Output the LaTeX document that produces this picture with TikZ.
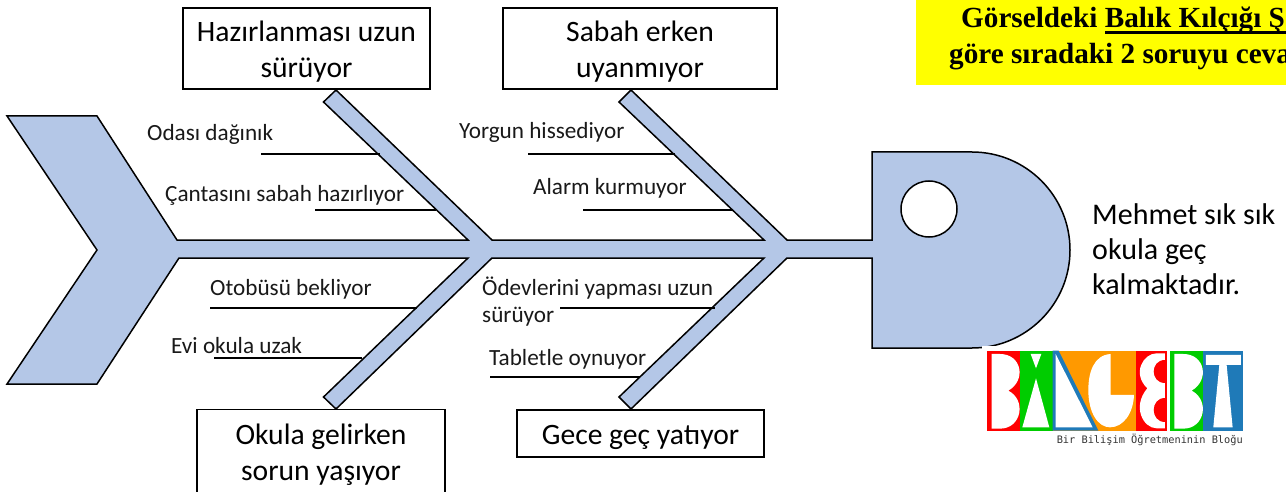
\documentclass[tikz,border=0pt]{standalone}
\usepackage{fontspec}
\setmainfont{Carlito}
\newfontfamily\serifbold{Liberation Serif}
\newfontfamily\monofam{DejaVu Sans Mono}
\definecolor{fishblue}{HTML}{B4C7E7}
\definecolor{bannery}{HTML}{FFFF00}
\definecolor{logored}{HTML}{FF0000}
\definecolor{logogreen}{HTML}{00CC00}
\definecolor{logoorange}{HTML}{FF9900}
\definecolor{logoblue}{HTML}{1F7AB8}
\newcommand{\boxtop}{\rule{0pt}{27.5pt}}
\tikzset{
  fish/.style={draw=black,line width=1.5pt,fill=fishblue,line join=miter},
  cause/.style={draw=black,line width=1.2pt,fill=white,align=center,font=\fontsize{29.6}{36}\selectfont,inner sep=0pt},
  lab/.style={font=\fontsize{23.2}{26}\selectfont,anchor=base west,inner sep=0pt,text=black!90},
  sub/.style={draw=black,line width=2pt},
  eff/.style={font=\fontsize{30}{35}\selectfont,anchor=west,align=left,inner sep=0pt},
  banner/.style={font=\serifbold\bfseries\fontsize{29.2}{35}\selectfont,anchor=base west,inner sep=0pt}
}
\begin{document}
\begin{tikzpicture}[x=1pt,y=-1pt]
\useasboundingbox (0,0) rectangle (1286,492);
\fill[white] (0,0) rectangle (1286,492);
% fish
\path[fish] (7,116) -- (97,116) -- (177,240) -- (468,240) -- (323.5,102) -- (336,90) -- (492,240)
 -- (764,240) -- (619,102) -- (631,90) -- (787,240) -- (872,240) -- (872,152) -- (972,152)
 arc[start angle=-90,end angle=90,radius=98] -- (872,348) -- (872,258) -- (787,258)
 -- (631,409) -- (619,397) -- (764,258) -- (492,258) -- (336,409) -- (323.5,397) -- (468,258)
 -- (179,258) -- (97,384) -- (7,384) -- (97,250) -- cycle;
\node[draw=black,line width=1.5pt,fill=white,circle,minimum size=56pt,inner sep=0pt] (eye) at (929,209) {};
% cause boxes
\node[cause,minimum width=247pt,minimum height=81pt] (b1) at (306.5,48.5) {\boxtop Hazırlanması uzun\\sürüyor};
\node[cause,minimum width=274pt,minimum height=81pt] (b2) at (640,48.5) {\boxtop Sabah erken\\uyanmıyor};
\node[cause,minimum width=248pt,minimum height=83pt] (b3) at (321,451) {\boxtop Okula gelirken\\sorun yaşıyor};
\node[cause,minimum width=247pt,minimum height=47pt] (b4) at (640.5,433.5) {\boxtop Gece geç yatıyor};
% sub causes
\node[lab] (t1) at (147,141) {Odası dağınık};
\node[lab] (t2) at (165,201) {Çantasını sabah hazırlıyor};
\node[lab] (t3) at (459,139) {Yorgun hissediyor};
\node[lab] (t4) at (533,195) {Alarm kurmuyor};
\node[lab] (t5) at (210,295) {Otobüsü bekliyor};
\node[lab] (t6) at (171,353) {Evi okula uzak};
\node[lab] (t7) at (482,295) {Ödevlerini yapması uzun};
\node[lab] (t7b) at (482,322) {sürüyor};
\node[lab] (t8) at (489,365) {Tabletle oynuyor};
\coordinate (a1) at (261,154); \coordinate (e1) at (380,154);
\coordinate (a2) at (315,210); \coordinate (e2) at (436,210);
\coordinate (a3) at (528,154); \coordinate (e3) at (675,154);
\coordinate (a4) at (583,210); \coordinate (e4) at (732,210);
\coordinate (a5) at (210,308); \coordinate (e5) at (417,308);
\coordinate (a6) at (214,358); \coordinate (e6) at (362,358);
\coordinate (a7) at (560,308); \coordinate (e7) at (715,308);
\coordinate (a8) at (490,377); \coordinate (e8) at (640,377);
\foreach \i in {1,...,8} {\draw[sub] (a\i) -- (e\i);}
% effect
\node[eff] (eff) at (1092,249) {Mehmet sık sık\\okula geç\\kalmaktadır.};
% yellow banner
\begin{scope}
\clip (0,0) rectangle (1286,492);
\fill[bannery] (916,0) rectangle (1300,85);
\node[banner] (y1) at (961,28) {Görseldeki Balık Kılçığı Ş};
\node[banner] (y2) at (949,64) {göre sıradaki 2 soruyu ceva};
\fill[black] (1105,31.5) rectangle (1286,33.8);
\end{scope}
% logo
\fill[white] (982,346) rectangle (1246,447);
\begin{scope}[shift={(960,330)},x=0.3333pt,y=-0.3333pt]
\fill[logored] (80,62) rectangle (181,302);
\fill[logogreen] (181,62) rectangle (278,302);
\fill[logoorange] (278,62) rectangle (527,302);
\fill[logoblue] (278,62) -- (296,62) -- (415,302) -- (278,302) -- cycle;
\fill[logored] (527,62) rectangle (622,302);
\fill[logogreen] (630,62) rectangle (730,302);
\fill[logoblue] (730,62) rectangle (850,302);
\fill[white] (95,72) -- (120,72) .. controls (185,72) and (200,150) .. (145,182) .. controls (200,210) and (185,296) .. (120,296) -- (95,296) -- cycle;
\fill[white] (212,72) -- (244,72) -- (228,115) -- cycle;
\fill[white] (228,145) -- (268,292) -- (187,292) -- cycle;
\fill[white] (287,72) -- (398,292) -- (287,292) -- cycle;
\fill[white] (452,72) .. controls (400,75) and (385,130) .. (385,180) .. controls (385,250) and (415,292) .. (450,292) .. controls (490,292) and (520,250) .. (522,195) -- (452,195) -- cycle;
\fill[white] (615,70) -- (590,70) .. controls (550,70) and (515,130) .. (562,175) .. controls (515,230) and (550,295) .. (590,295) -- (615,295) -- cycle;
\fill[logored] (615,90) -- (615,160) .. controls (570,160) and (570,90) .. (615,90) -- cycle;
\fill[logored] (615,205) -- (615,275) .. controls (570,275) and (570,205) .. (615,205) -- cycle;
\fill[white] (643,72) -- (670,72) .. controls (735,72) and (750,150) .. (695,182) .. controls (750,210) and (735,296) .. (670,296) -- (643,296) -- cycle;
\fill[white] (738,75) -- (843,75) -- (843,105) -- (800,105) -- (818,292) -- (760,292) -- (778,105) -- (738,105) -- cycle;
\end{scope}
\node[font=\monofam\fontsize{10.3}{11}\selectfont,anchor=base east,inner sep=0pt,text=black!80] (blog) at (1243,443) {Bir Bilişim Öğretmeninin Bloğu};
\end{tikzpicture}
\end{document}
